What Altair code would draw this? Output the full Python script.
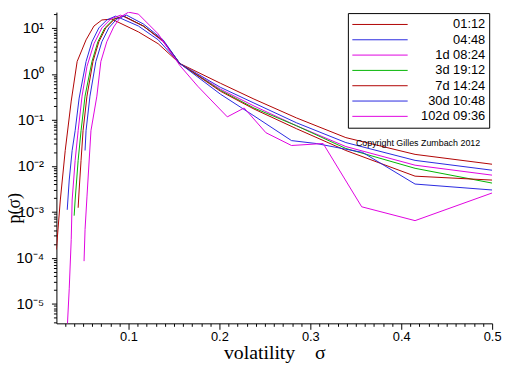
import altair as alt
import pandas as pd

labels = ["01:12", "04:48", "1d 08:24", "3d 19:12", "7d 14:24", "30d 10:48", "102d 09:36"]
colors = ["#b00000", "#2828e0", "#e000e0", "#00b400", "#b00000", "#2828e0", "#e000e0"]

s_0112 = [0.0207, 0.0250, 0.0304, 0.0370, 0.0435, 0.0533, 0.0620, 0.0707, 0.0815, 0.1109, 0.1326, 0.1565, 0.2011, 0.2380, 0.2848, 0.3391, 0.4152, 0.5]
p_0112 = [1.5e-4, 1.8e-3, 0.0215, 0.256, 1.86, 5.5, 11.0, 14.9, 15.6, 8.2, 4.53, 1.68, 0.625, 0.283, 0.11, 0.041, 0.0177, 0.0108]

s_0448 = [0.0326, 0.0348, 0.0380, 0.0413, 0.0457, 0.0533, 0.0598, 0.0674, 0.0761, 0.0859, 0.1109, 0.1326, 0.1565, 0.2011, 0.2380, 0.2848, 0.3391, 0.4152, 0.5]
p_0448 = [0.0011, 0.0049, 0.0215, 0.058, 0.297, 1.86, 5.0, 10.0, 14.9, 18.1, 11.0, 5.52, 1.68, 0.51, 0.232, 0.0861, 0.032, 0.0131, 0.008]

s_1d = [0.0326, 0.0348, 0.0370, 0.0380, 0.0413, 0.0446, 0.0489, 0.0543, 0.0620, 0.0707, 0.0804, 0.0913, 0.1163, 0.1380, 0.1565, 0.2011, 0.2380, 0.2848, 0.3391, 0.4152, 0.5]
p_1d = [2.9e-6, 2.1e-5, 2.5e-4, 0.0018, 0.0131, 0.058, 0.328, 1.45, 4.53, 10.0, 15.6, 19.0, 11.0, 5.0, 1.68, 0.465, 0.2, 0.0743, 0.0262, 0.0103, 0.00625]

s_3d = [0.0402, 0.0413, 0.0446, 0.0478, 0.0522, 0.0598, 0.0663, 0.0739, 0.0837, 0.0946, 0.1163, 0.1380, 0.1565, 0.2011, 0.2380, 0.2848, 0.3391, 0.4152, 0.5]
p_3d = [0.00082, 0.0018, 0.0131, 0.058, 0.328, 1.86, 5.0, 10.0, 15.6, 18.1, 11.0, 5.25, 1.68, 0.44, 0.181, 0.0743, 0.0238, 0.0088, 0.0042]

s_7d = [0.0446, 0.0457, 0.0478, 0.0500, 0.0543, 0.0609, 0.0674, 0.0750, 0.0848, 0.0946, 0.1163, 0.1380, 0.1565, 0.2011, 0.2380, 0.2848, 0.3391, 0.4152, 0.5]
p_7d = [0.00122, 0.00297, 0.0131, 0.058, 0.328, 1.86, 5.0, 10.0, 15.6, 18.1, 11.0, 5.25, 1.68, 0.42, 0.172, 0.064, 0.0215, 0.00594, 0.00488]

s_30d = [0.0522, 0.0533, 0.0576, 0.0641, 0.0707, 0.0783, 0.0870, 0.0978, 0.1163, 0.1380, 0.1565, 0.2011, 0.2380, 0.2793, 0.3065, 0.3576, 0.4152, 0.5]
p_30d = [0.0215, 0.058, 0.328, 1.86, 5.0, 10.0, 15.6, 19.0, 12.2, 5.52, 1.68, 0.362, 0.122, 0.0353, 0.0305, 0.0195, 0.004, 0.00297]

s_102d = [0.0511, 0.0522, 0.0543, 0.0587, 0.0652, 0.0696, 0.0761, 0.0837, 0.0913, 0.1000, 0.1109, 0.1326, 0.1565, 0.1761, 0.2087, 0.2272, 0.2511, 0.2793, 0.3141, 0.3565, 0.4152, 0.5]
p_102d = [8.4e-5, 0.00041, 0.0021, 0.058, 0.328, 1.86, 5.0, 10.5, 17.3, 22.0, 20.0, 7.43, 1.52, 0.54, 0.116, 0.181, 0.0525, 0.0276, 0.0305, 0.00128, 0.00064, 0.00256]

x_ticks = [round(0.03 + 0.01 * i, 2) for i in range(48)]
y_ticks = [m * 10.0 ** e for e in range(-6, 2) for m in range(1, 10)]
y_ticks = [v for v in y_ticks if 3.7e-6 <= v <= 22.1]

series = [(s_0112, p_0112), (s_0448, p_0448), (s_1d, p_1d), (s_3d, p_3d),
          (s_7d, p_7d), (s_30d, p_30d), (s_102d, p_102d)]
rows = []
for lab, (ss, pp) in zip(labels, series):
    for s, p in zip(ss, pp):
        rows.append({"sigma": s, "p": p, "horizon": lab})
df = pd.DataFrame(rows)

ymajor = "abs(log(datum.value)/LN10 - round(log(datum.value)/LN10)) < 0.001"
xmajor = "abs(datum.value*10 - round(datum.value*10)) < 0.001"
nb = "\u00a0"

lines = alt.Chart(df).mark_line(strokeWidth=1, clip=True).encode(
    x=alt.X("sigma:Q",
            scale=alt.Scale(domain=[0.0207, 0.5], nice=False, zero=False),
            axis=alt.Axis(values=x_ticks, grid=False, domainColor="black", tickColor="black",
                          tickSize=alt.condition(xmajor, alt.value(6), alt.value(3)),
                          labelExpr="(" + xmajor + ") ? format(datum.value, '.1f') : ''",
                          labelOverlap=False, labelFlush=False,
                          labelFont="Liberation Sans", labelFontSize=13, labelColor="black",
                          labelPadding=1,
                          title="volatility" + nb * 4 + "σ", titleFont="Liberation Serif",
                          titleFontSize=20, titleFontWeight="normal", titleColor="black",
                          titleBaseline="alphabetic", titleY=36)),
    y=alt.Y("p:Q",
            scale=alt.Scale(type="log", domain=[3.72e-6, 22.1], nice=False),
            axis=alt.Axis(values=y_ticks, grid=False, domainColor="black", tickColor="black",
                          tickSize=alt.condition(ymajor, alt.value(5), alt.value(3)),
                          labelExpr="(" + ymajor + ") ? '10' + ['⁻⁶','⁻⁵','⁻⁴','⁻³','⁻²','⁻¹','⁰','¹'][round(log(datum.value)/LN10)+6] : ''",
                          labelOverlap=False, labelFlush=False,
                          labelFont="Liberation Sans", labelFontSize=15, labelColor="black",
                          labelPadding=8,
                          title="p(σ)", titleFont="Liberation Serif", titleFontSize=18,
                          titleFontWeight="normal", titleColor="black",
                          titleX=-42, titleY=198, titleBaseline="middle", titleAlign="center")),
    color=alt.Color("horizon:N", sort=labels,
                    scale=alt.Scale(domain=labels, range=colors),
                    legend=alt.Legend(orient="none", legendX=295, legendY=1, title=None,
                                      symbolType="M-1,0L7,0", symbolSize=196, symbolStrokeWidth=1,
                                      labelAlign="right", labelOffset=120,
                                      labelFont="Liberation Sans", labelFontSize=13,
                                      labelColor="black", labelLimit=200,
                                      strokeColor="black", fillColor="white",
                                      padding=4, rowPadding=0.5)),
)

copyright_text = ["Copyright Gilles Zumbach 2012"]
note = alt.Chart(pd.DataFrame({"t": copyright_text})).mark_text(
    font="Liberation Sans", fontSize=9, color="black", align="center", baseline="middle"
).encode(text="t:N", x=alt.value(366), y=alt.value(133))

chart = alt.layer(lines, note).properties(
    width=441, height=315,
    autosize=alt.AutoSizeParams(type="none"),
    padding={"left": 49, "top": 2, "right": 12, "bottom": 40},
).configure_view(stroke=None)

chart.save("out.html", embed_options={"renderer": "svg", "actions": False})
